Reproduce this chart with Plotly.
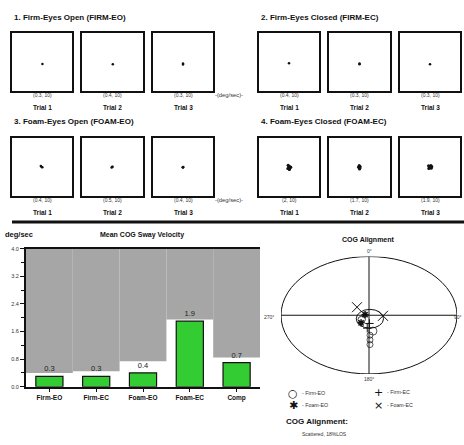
import plotly.graph_objects as go

W, H = 464, 445
FONT = "Liberation Sans"


def px(x):
    return x / W


def py(y):
    return 1 - y / H


# ---------------- data ----------------
condition_titles = ["1. Firm-Eyes Open (FIRM-EO)", "2. Firm-Eyes Closed (FIRM-EC)",
                    "3. Foam-Eyes Open (FOAM-EO)", "4. Foam-Eyes Closed (FOAM-EC)"]
trial_labels = ["Trial 1", "Trial 2", "Trial 3"]
trace_scale = 10
firm_eo_vel = [0.3, 0.4, 0.3]
firm_ec_vel = [0.4, 0.3, 0.3]
foam_eo_vel = [0.4, 0.5, 0.4]
foam_ec_vel = [2, 1.7, 1.9]

# COG sway traces (deg) per trial
firm_eo_x = [[0.15], [0.1], [0.0, 0.0]]
firm_eo_y = [[-0.8], [-0.9], [-0.6, -1.0]]
firm_ec_x = [[0.0], [0.0, 0.0], [0.0]]
firm_ec_y = [[-0.5], [-0.6, -0.9], [-0.9]]
foam_eo_x = [[-0.4, -0.1, 0.1], [-0.3, -0.1, 0.0], [-0.1, 0.1, 0.0]]
foam_eo_y = [[0.4, 0.1, 0.0], [-0.1, 0.1, 0.2], [0.0, 0.1, -0.1]]
foam_ec_x = [[-0.3, 0.1, 0.5, 0.0, -0.4, 0.2, 0.6, -0.1, 0.1],
             [-0.1, 0.2, -0.3, 0.1, 0.0, -0.2, 0.1],
             [-0.5, 0.3, 0.6, -0.2, 0.4, -0.4, 0.1, 0.5]]
foam_ec_y = [[0.7, 0.3, 0.1, -0.2, -0.4, -0.6, 0.0, 0.4, -0.8],
             [0.6, 0.3, 0.0, -0.3, -0.6, 0.2, -0.1],
             [0.5, 0.6, 0.2, 0.0, -0.3, -0.4, -0.1, 0.3]]

categories = ["Firm-EO", "Firm-EC", "Foam-EO", "Foam-EC", "Comp"]
mean_velocity = [0.3, 0.3, 0.4, 1.9, 0.7]
velocity_labels = ["0.3", "0.3", "0.4", "1.9", "0.7"]
normal_limit = [0.40, 0.45, 0.74, 1.95, 0.85]
y_max = 4.0
y_ticks = [0.0, 0.8, 1.6, 2.4, 3.2, 4.0]
y_tick_labels = ["0.0", "0.8", "1.6", "2.4", "3.2", "4.0"]

# COG alignment (% LOS)
firm_eo_cog_x = [4.5, 1.1, 1.1, 1.1]
firm_eo_cog_y = [-27, -34, -42, -50]
firm_ec_cog_x = [-2.0, 0.5]
firm_ec_cog_y = [-22, -14]
foam_eo_cog_x = [-4.5, -9.0]
foam_eo_cog_y = [1.0, -13]
foam_ec_cog_x = [-13.6, 15.9]
foam_ec_cog_y = [13.7, -1.0]
cog_loop = [-14.5, 16.5, 10.0, -22.0]  # x0, x1, y0, y1 of the sway loop
cog_loop_small = [-12.5, -4.0, -2.0, -12.0]
alignment_result = "Scattered, 18%LOS"

fig = go.Figure()
layout = dict(width=W, height=H, margin=dict(l=0, r=0, t=0, b=0),
              paper_bgcolor="white", plot_bgcolor="white", showlegend=False,
              font=dict(family=FONT, color="#222"))
annotations = []
shapes = []


def note(x, y, text, size, color="#111", xanchor="center", family=None):
    f = dict(size=size, color=color)
    if family:
        f["family"] = family
    annotations.append(dict(x=px(x), y=py(y), xref="paper", yref="paper", text=text,
                            showarrow=False, xanchor=xanchor, yanchor="middle", font=f))


# ---------------- sway trace boxes ----------------
box_x = [[(12, 72), (82, 143), (153, 213)], [(259, 319), (329, 390), (400, 460)]]
row_y = [(30, 89), (137, 196)]
cond_vel = [firm_eo_vel, firm_ec_vel, foam_eo_vel, foam_ec_vel]
cond_xs = [firm_eo_x, firm_ec_x, foam_eo_x, foam_ec_x]
cond_ys = [firm_eo_y, firm_ec_y, foam_eo_y, foam_ec_y]
title_y = [15, 15, 120, 120]
label_y = [(93, 106), (93, 106), (200, 212), (200, 212)]

ax = 0
for c in range(4):
    row, col = c // 2, c % 2
    note(box_x[col][0][0], title_y[c], "<b>" + condition_titles[c] + "</b>", 8, xanchor="left")
    for t in range(3):
        ax += 1
        x0, x1 = box_x[col][t]
        y0, y1 = row_y[row]
        xa = "xaxis" if ax == 1 else f"xaxis{ax}"
        ya = "yaxis" if ax == 1 else f"yaxis{ax}"
        layout[xa] = dict(domain=[px(x0), px(x1)], range=[-trace_scale, trace_scale], anchor=f"y{ax}" if ax > 1 else "y",
                          showgrid=False, zeroline=False, showticklabels=False, ticks="",
                          showline=True, mirror=True, linecolor="#111", linewidth=2)
        layout[ya] = dict(domain=[py(y1), py(y0)], range=[-trace_scale, trace_scale], anchor=f"x{ax}" if ax > 1 else "x",
                          showgrid=False, zeroline=False, showticklabels=False, ticks="",
                          showline=True, mirror=True, linecolor="#111", linewidth=2)
        fig.add_trace(go.Scatter(x=cond_xs[c][t], y=cond_ys[c][t], mode="lines+markers",
                                 line=dict(color="#111", width=1.5),
                                 marker=dict(size=2.5 if c < 3 else 3, color="#111"),
                                 xaxis=f"x{ax}" if ax > 1 else "x", yaxis=f"y{ax}" if ax > 1 else "y"))
        cx = (x0 + x1) / 2
        note(cx, label_y[c][0], f"({cond_vel[c][t]}, {trace_scale})", 5, color="#333")
        note(cx, label_y[c][1], "<b>" + trial_labels[t] + "</b>", 6.5)
    if col == 0:
        note(213, label_y[c][0], "-(deg/sec)-", 5.8, color="#333", xanchor="left")

# separator
shapes.append(dict(type="line", xref="paper", yref="paper", x0=px(12), x1=1, y0=py(222), y1=py(222),
                   line=dict(color="#111", width=3)))

# ---------------- bar chart ----------------
bx = "x13"
by = "y13"
layout["xaxis13"] = dict(domain=[px(26), px(260)], range=[-0.5, 4.5], anchor=by,
                         tickmode="array", tickvals=list(range(5)),
                         ticktext=["<b>" + c + "</b>" for c in categories],
                         tickfont=dict(size=6.5, color="#111"), ticks="outside", ticklen=3,
                         tickcolor="#111", showline=True, linecolor="#111", linewidth=2,
                         mirror=True, showgrid=False, zeroline=False)
layout["yaxis13"] = dict(domain=[py(389), py(249)], range=[0, y_max], anchor=bx,
                         tickmode="array", tickvals=y_ticks, ticktext=y_tick_labels,
                         tickfont=dict(size=5.5, color="#333"), ticks="outside", ticklen=4,
                         tickcolor="#111", showline=True, linecolor="#111", linewidth=2,
                         showgrid=False, zeroline=False,
                         minor=dict(tickvals=[0.4, 1.2, 2.0, 2.8, 3.6], ticks="outside",
                                    ticklen=3, tickcolor="#111"))
fig.add_trace(go.Bar(x=list(range(5)), y=[y_max - v for v in normal_limit], base=normal_limit,
                     width=1.0, marker=dict(color="#a6a6a6", line=dict(width=0)),
                     xaxis=bx, yaxis=by))
fig.add_trace(go.Bar(x=list(range(5)), y=mean_velocity, width=0.58,
                     marker=dict(color="#33cc33", line=dict(color="#111", width=1.2)),
                     text=velocity_labels, textposition="outside", cliponaxis=False,
                     textfont=dict(size=7.5, color="#222"),
                     xaxis=bx, yaxis=by))
layout["barmode"] = "overlay"
note(3, 235, "<b>deg/sec</b>", 7.5, xanchor="left")
note(142, 235, "<b>Mean COG Sway Velocity</b>", 7)

# ---------------- COG alignment ----------------
cx_, cy_ = "x14", "y14"
layout["xaxis14"] = dict(domain=[px(281), px(457)], range=[-100, 100], anchor=cy_, visible=False)
layout["yaxis14"] = dict(domain=[py(376), py(257)], range=[-100, 100], anchor=cx_, visible=False)
shapes.append(dict(type="circle", xref=cx_, yref=cy_, x0=-100, x1=100, y0=-100, y1=100,
                   line=dict(color="#111", width=1)))
shapes.append(dict(type="line", xref=cx_, yref=cy_, x0=0, x1=0, y0=-100, y1=100,
                   line=dict(color="#111", width=1)))
shapes.append(dict(type="line", xref=cx_, yref=cy_, x0=-100, x1=100, y0=0, y1=0,
                   line=dict(color="#111", width=1)))
shapes.append(dict(type="circle", xref=cx_, yref=cy_, x0=cog_loop[0], x1=cog_loop[1],
                   y0=cog_loop[2], y1=cog_loop[3], line=dict(color="#111", width=1)))
shapes.append(dict(type="circle", xref=cx_, yref=cy_, x0=cog_loop_small[0], x1=cog_loop_small[1],
                   y0=cog_loop_small[2], y1=cog_loop_small[3], line=dict(color="#111", width=0.8)))
fig.add_trace(go.Scatter(x=firm_eo_cog_x, y=firm_eo_cog_y, mode="markers", xaxis=cx_, yaxis=cy_,
                         marker=dict(symbol="circle-open", size=[8, 6, 6, 6], color="#111",
                                     line=dict(width=1))))
fig.add_trace(go.Scatter(x=firm_ec_cog_x, y=firm_ec_cog_y, mode="markers", xaxis=cx_, yaxis=cy_,
                         marker=dict(symbol="cross-thin-open", size=6, color="#111",
                                     line=dict(width=1, color="#111"))))
fig.add_trace(go.Scatter(x=foam_eo_cog_x, y=foam_eo_cog_y, mode="markers", xaxis=cx_, yaxis=cy_,
                         marker=dict(symbol="asterisk-open", size=6, color="#111",
                                     line=dict(width=1.5, color="#111"))))
fig.add_trace(go.Scatter(x=foam_ec_cog_x, y=foam_ec_cog_y, mode="markers", xaxis=cx_, yaxis=cy_,
                         marker=dict(symbol="x-thin-open", size=10, color="#111",
                                     line=dict(width=1, color="#111"))))

note(368, 240, "<b>COG Alignment</b>", 7)
note(369, 251, "0°", 5, color="#333")
note(369, 381, "180°", 5, color="#333")
note(262, 318, "270°", 5, color="#333", xanchor="left")
note(463.5, 318, "90°", 5, color="#333", xanchor="right")

legend_items = [("○", "- Firm-EO", 293, 396), ("+", "- Firm-EC", 378, 395),
                ("✱", "- Foam-EO", 293, 408), ("×", "- Foam-EC", 378, 408)]
for sym, lab, lx, ly in legend_items:
    note(lx, ly, sym, 11, family="DejaVu Sans")
    note(lx + 7, ly - 1, lab, 5.3, color="#333", xanchor="left")
note(284, 424, "<b>COG Alignment:</b>", 8, xanchor="left")
note(300, 437, alignment_result, 5, color="#333", xanchor="left")

layout["annotations"] = annotations
layout["shapes"] = shapes
fig.update_layout(**layout)
fig.write_html("out.html", config={"displayModeBar": False},
               post_script="document.body.style.margin='0px';")
